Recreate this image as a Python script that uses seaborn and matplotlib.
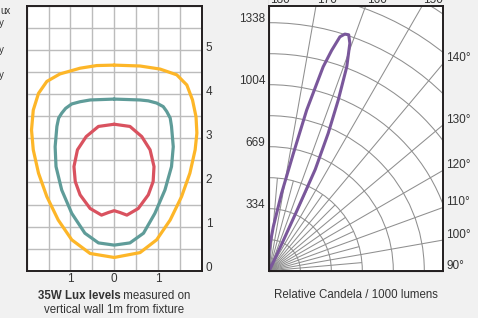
import numpy as np
import matplotlib
matplotlib.use("Agg")
import matplotlib.pyplot as plt
import matplotlib.transforms as mtransforms
from matplotlib.patches import Rectangle
from matplotlib import font_manager as fm
import seaborn as sns

# ---------------- data ----------------
# Lux contours (x in m, y in m)
yellow_x = [0.0, 0.59, 1.05, 1.43, 1.66, 1.79, 1.87, 1.89, 1.85, 1.73, 1.54, 1.28, 0.97, 0.59, 0.0,
            -0.55, -0.97, -1.28, -1.54, -1.73, -1.85, -1.89, -1.85, -1.73, -1.54, -1.24, -0.78, -0.40, 0.0]
yellow_y = [4.66, 4.64, 4.57, 4.44, 4.21, 3.87, 3.49, 3.12, 2.74, 2.21, 1.68, 1.15, 0.70, 0.41, 0.30,
            0.39, 0.70, 1.15, 1.68, 2.21, 2.74, 3.19, 3.64, 4.02, 4.29, 4.46, 4.59, 4.65, 4.66]

teal_x = [0.0, 0.59, 0.78, 0.97, 1.12, 1.20, 1.28, 1.31, 1.35, 1.31, 1.16, 0.93, 0.67, 0.36, 0.0,
          -0.36, -0.67, -0.97, -1.20, -1.33, -1.35, -1.31, -1.27, -1.20, -1.11, -0.97, -0.78, -0.55, 0.0]
teal_y = [3.89, 3.87, 3.85, 3.80, 3.72, 3.61, 3.46, 3.27, 2.81, 2.36, 1.83, 1.30, 0.85, 0.63, 0.58,
          0.63, 0.85, 1.30, 1.83, 2.36, 2.81, 3.27, 3.46, 3.57, 3.68, 3.78, 3.83, 3.87, 3.89]

red_x = [0.0, 0.36, 0.63, 0.82, 0.91, 0.89, 0.78, 0.55, 0.29, 0.13, 0.0,
         -0.13, -0.29, -0.55, -0.78, -0.89, -0.92, -0.84, -0.64, -0.36, 0.0]
red_y = [3.32, 3.27, 3.04, 2.74, 2.36, 2.02, 1.72, 1.41, 1.26, 1.32, 1.36,
         1.32, 1.26, 1.41, 1.72, 2.02, 2.36, 2.74, 3.04, 3.27, 3.32]

lux_xticks = [-1, 0, 1]
lux_xticklabels = ["1", "0", "1"]
lux_yticks = [0, 1, 2, 3, 4, 5]

# Candela distribution (angle in degrees, candela / 1000 lm)
cd_angle = [154.6, 155.0, 155.3, 155.6, 156.8, 158.0, 159.2, 160.5, 161.4, 162.3, 163.2, 164.2,
            165.2, 166.9, 168.4, 171.0, 174.8, 178.0, 181.0, 184.0, 187.0]
cd_value = [0, 150, 350, 600, 807, 993, 1177, 1302, 1343, 1340, 1318, 1235,
            1138, 890, 646, 423, 238, 150, 100, 55, 0]

ring_step = 167.25
ring_values = [ring_step * k for k in range(1, 11)]
radial_labels = [334, 669, 1004, 1338]
major_spokes = [90, 100, 110, 120, 130, 140, 150, 160, 170, 180]
minor_spokes = [95, 105, 115, 125, 135, 145, 155, 165, 175]
right_angle_labels = [90, 100, 110, 120, 130, 140]
top_angle_labels = [180, 170, 160, 150]

# ---------------- style ----------------
W, H = 478, 318
BG = "#f1f1f1"
YEL = "#fdb628"
TEAL = "#5f9c99"
RED = "#d9525f"
PURPLE = "#7a579b"
TXT = "#333333"
FRAME = "#231f20"
FS = 8.3

sns.set_style("white")
names = {f.name for f in fm.fontManager.ttflist}
base = "Liberation Sans Narrow" if "Liberation Sans Narrow" in names else "Liberation Sans"
plt.rcParams["font.family"] = [base, "DejaVu Sans"]

fig = plt.figure(figsize=(W / 100, H / 100), dpi=100, facecolor=BG)


def fr(x0, y0, x1, y1):
    """pixel box (top-left origin) -> figure fraction rect"""
    return [x0 / W, 1 - y1 / H, (x1 - x0) / W, (y1 - y0) / H]


def off(dx, dy):
    return mtransforms.ScaledTranslation(dx / 100, dy / 100, fig.dpi_scale_trans)


# ---------------- left panel: lux levels ----------------
L = (26.7, 6.0, 201.7, 270.7)
ax = fig.add_axes(fr(*L))
ax.set_facecolor("white")
ax.set_xlim(-2, 2)
ax.set_ylim(0, 6)
ax.set_xticks(lux_xticks)
ax.set_xticklabels(lux_xticklabels)
ax.set_xticks(np.arange(-2, 2.01, 0.5), minor=True)
ax.set_yticks(lux_yticks)
ax.set_yticklabels([str(v) for v in lux_yticks])
ax.set_yticks(np.arange(0, 6.01, 0.5), minor=True)
ax.yaxis.tick_right()
ax.tick_params(which="both", length=0, labelsize=FS + 0.2, colors=TXT, pad=3)
ax.tick_params(axis="x", pad=2)
ax.grid(True, which="both", color="#bcbcbc", lw=1.0)
ax.set_axisbelow(True)
for s in ax.spines.values():
    s.set_color(FRAME)
    s.set_linewidth(1.4)
    s.set_zorder(5)
for lbl in ax.get_yticklabels():
    lbl.set_transform(lbl.get_transform() + off(0, 4))

for xs, ys, c in [(yellow_x, yellow_y, YEL), (teal_x, teal_y, TEAL), (red_x, red_y, RED)]:
    sns.lineplot(x=xs, y=ys, sort=False, estimator=None, color=c, lw=2.3, ax=ax,
                 solid_joinstyle="round", solid_capstyle="round")
ax.set_xlabel("")
ax.set_ylabel("")

# cut-off legend fragments at the far left
fig.text(0 / W, 1 - 11 / H, "ux", ha="left", va="center", fontsize=7, color=TXT)
for yy in (23, 50, 75):
    fig.text(-1 / W, 1 - yy / H, "y", ha="left", va="center", fontsize=7, color=TXT)

# captions left
fig.canvas.draw()
rend = fig.canvas.get_renderer()
t1 = fig.text(0, 1 - 296 / H, "35W Lux levels", weight="bold", fontsize=FS, color=TXT,
              ha="left", va="center")
t2 = fig.text(0, 1 - 296 / H, " measured on", fontsize=FS, color=TXT, ha="left", va="center")
w1 = t1.get_window_extent(rend).width
w2 = t2.get_window_extent(rend).width
cx = 114.2
t1.set_x((cx - (w1 + w2) / 2) / W)
t2.set_x((cx - (w1 + w2) / 2 + w1) / W)
fig.text(cx / W, 1 - 310 / H, "vertical wall 1m from fixture", fontsize=FS, color=TXT,
         ha="center", va="center")

# ---------------- right panel: polar candela ----------------
R = (269.3, 6.0, 443.3, 270.7)
px_per_1338 = 248.0
rmax = 1750.0
S = rmax / 1338.0 * px_per_1338

ax_bg = fig.add_axes(fr(*R), zorder=0)
ax_bg.set_facecolor("white")
ax_bg.set_xticks([])
ax_bg.set_yticks([])
for s in ax_bg.spines.values():
    s.set_visible(False)

ax_p = fig.add_axes(fr(R[0], R[3] - S, R[0] + S, R[3]), projection="polar", zorder=2)
ax_p.set_theta_zero_location("S")
ax_p.set_theta_direction(1)
ax_p.patch.set_visible(False)
for s in ax_p.spines.values():
    s.set_visible(False)

sns.lineplot(x=np.deg2rad(cd_angle), y=cd_value, sort=False, estimator=None, color=PURPLE,
             lw=2.2, ax=ax_p, solid_joinstyle="round")
ax_p.set_xlabel("")
ax_p.set_ylabel("")

ax_p.set_thetalim(np.deg2rad(90), np.deg2rad(180))
ax_p.set_rlim(0, rmax)
ax_p.set_xticks(np.deg2rad(major_spokes))
ax_p.set_yticks(ring_values)
ax_p.set_xticklabels([])
ax_p.set_yticklabels([])
ax_p.tick_params(length=0)
ax_p.grid(True, color="#8f8f8f", lw=0.75)

for a in minor_spokes:
    ax_p.plot([np.deg2rad(a), np.deg2rad(a)], [0, 500], color="#8f8f8f", lw=0.75, zorder=1)

# hide the part of the polar grid that falls outside the rectangular frame
cover_right = Rectangle(((R[2] + 0.7) / W, 0), 1, 1, transform=fig.transFigure,
                        facecolor=BG, edgecolor="none", zorder=2.5)
cover_top = Rectangle((R[0] / W, 1 - R[1] / H), 1, 1, transform=fig.transFigure,
                      facecolor=BG, edgecolor="none", zorder=2.5)
fig.add_artist(cover_right)
fig.add_artist(cover_top)

ax_f = fig.add_axes(fr(*R), zorder=3)
ax_f.set_facecolor("none")
ax_f.set_xticks([])
ax_f.set_yticks([])
for s in ax_f.spines.values():
    s.set_color(FRAME)
    s.set_linewidth(1.4)

# radial labels on left edge (at 180 deg)
for v in radial_labels:
    ax_p.text(np.deg2rad(180), v, str(v), ha="right", va="center", fontsize=FS + 0.2, color=TXT,
              transform=ax_p.transData + off(-4, 4), clip_on=False)

# angle labels on right edge
bw, bh = R[2] - R[0], R[3] - R[1]
for a in right_angle_labels:
    yfrac = np.tan(np.deg2rad(a - 90)) * bw / bh
    ax_f.text(1.0, yfrac, f"{a}°", ha="left", va="center", fontsize=FS + 0.2, color=TXT,
              transform=ax_f.transAxes + off(3, 5), clip_on=False)
# angle labels at top (cut off by the figure edge, as in the original)
for a in top_angle_labels:
    xfrac = np.tan(np.deg2rad(180 - a)) * bh / bw
    ax_f.text(xfrac, 1.0, f"{a}°", ha="left", va="baseline", fontsize=FS + 0.2, color=TXT,
              transform=ax_f.transAxes + off(1, 3), clip_on=False)

fig.text(356 / W, 1 - 295 / H, "Relative Candela / 1000 lumens", fontsize=FS, color=TXT,
         ha="center", va="center")

fig.savefig("out.png", dpi=100, facecolor=BG)
